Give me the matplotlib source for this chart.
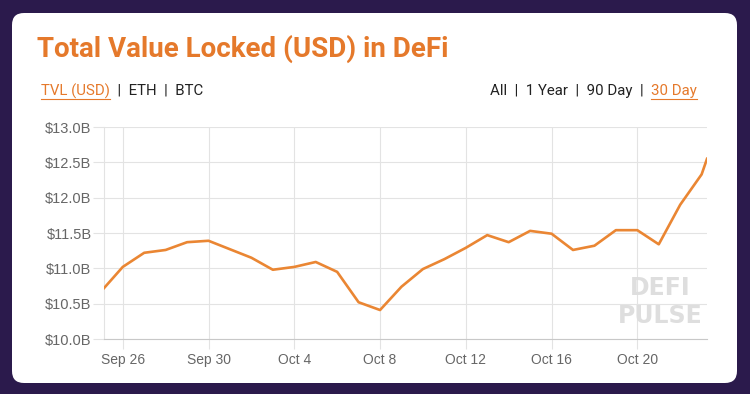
import matplotlib
matplotlib.use("Agg")
import matplotlib.pyplot as plt
import matplotlib.dates as mdates
from matplotlib.patches import FancyBboxPatch
from matplotlib.lines import Line2D
import pandas as pd

# TVL readings (billions USD), daily plus the latest partial-day value
timestamps = pd.to_datetime(
    ["2020-09-25 03:00"]
    + [f"2020-09-{d:02d} 00:00" for d in range(26, 31)]
    + [f"2020-10-{d:02d} 00:00" for d in range(1, 24)]
    + ["2020-10-23 06:00"],
    format="%Y-%m-%d %H:%M",
)
tvl_billions = [
    10.72, 11.02, 11.22, 11.26, 11.37, 11.39,
    11.27, 11.15, 10.98, 11.02, 11.09, 10.95, 10.52, 10.41, 10.74, 10.99,
    11.13, 11.29, 11.47, 11.37, 11.53, 11.49, 11.26, 11.32, 11.54, 11.54,
    11.34, 11.90, 12.33, 12.55,
]
x_ticks = ["2020-09-26", "2020-09-30", "2020-10-04", "2020-10-08",
           "2020-10-12", "2020-10-16", "2020-10-20"]
y_ticks = [10.0, 10.5, 11.0, 11.5, 12.0, 12.5, 13.0]

ORANGE = "#e5792b"
LINE = "#ea8633"
BG = "#2b1a4c"
GRID = "#e3e3e3"
TICK = "#666666"
UI_FONT = "Roboto"

W, H = 750, 394
fig = plt.figure(figsize=(W / 100, H / 100), dpi=100, facecolor=BG)

# white card behind everything
card = FancyBboxPatch((12 / W, 11 / H), 725 / W, 370 / H,
                      boxstyle="round,pad=0,rounding_size=0.016",
                      transform=fig.transFigure, facecolor="white",
                      edgecolor="none", mutation_aspect=W / H, zorder=-10)
fig.patches.append(card)

ax = fig.add_axes([104 / W, 55 / H, 603 / W, 212 / H])
ax.set_facecolor("white")
ax.plot(timestamps, tvl_billions, color=LINE, linewidth=1.9, zorder=3)

ax.set_xlim(timestamps[0], timestamps[-1])
ax.set_ylim(10.0, 13.0)
ax.set_yticks(y_ticks)
ax.set_yticklabels([f"${v:.1f}B" for v in y_ticks])
ax.set_xticks(pd.to_datetime(x_ticks))
ax.xaxis.set_major_formatter(mdates.DateFormatter("%b %-d"))

ax.grid(True, color=GRID, linewidth=0.8)
for side in ["top", "right"]:
    ax.spines[side].set_visible(False)
ax.spines["left"].set_color(GRID)
ax.spines["bottom"].set_color("#c8c8c8")
ax.tick_params(axis="y", colors=GRID, length=8, width=0.8,
               labelcolor=TICK, labelsize=10.5, pad=1)
ax.tick_params(axis="x", colors=GRID, length=7, width=0.8,
               labelcolor=TICK, labelsize=10, pad=3)
for lab in ax.get_xticklabels() + ax.get_yticklabels():
    lab.set_family("Liberation Sans")

# watermark
ax.text(0.922, 0.24, "DEFI", transform=ax.transAxes, ha="center", va="center",
        fontsize=17, color="#dedede", fontweight="bold", family="DejaVu Sans",
        zorder=2)
ax.text(0.922, 0.108, "PULSE", transform=ax.transAxes, ha="center",
        va="center", fontsize=17, color="#dedede", fontweight="bold",
        family="DejaVu Sans", zorder=2)

# title and menu
fig.text(37 / W, 1 - 49 / H, "Total Value Locked (USD) in DeFi", color=ORANGE,
         fontsize=20, fontweight="bold", family=UI_FONT, va="center")

menu_fs = 10.8
renderer = fig.canvas.get_renderer()


def underline(t):
    bb = t.get_window_extent(renderer).transformed(fig.transFigure.inverted())
    y = bb.y0 - 0.5 / H
    fig.lines.append(Line2D([bb.x0, bb.x1], [y, y], color=ORANGE,
                            linewidth=0.8, transform=fig.transFigure))


t1 = fig.text(41 / W, 1 - 91 / H, "TVL (USD)", color=ORANGE, fontsize=menu_fs,
              family=UI_FONT, va="center")
bb = t1.get_window_extent(renderer).transformed(fig.transFigure.inverted())
fig.text(bb.x1, 1 - 91 / H, "  |  ETH  |  BTC", color="#222222",
         fontsize=menu_fs, family=UI_FONT, va="center")
underline(t1)

t2 = fig.text(697 / W, 1 - 91 / H, "30 Day", color=ORANGE, fontsize=menu_fs,
              family=UI_FONT, va="center", ha="right")
bb = t2.get_window_extent(renderer).transformed(fig.transFigure.inverted())
fig.text(bb.x0, 1 - 91 / H, "All  |  1 Year  |  90 Day  |  ", color="#222222",
         fontsize=menu_fs, family=UI_FONT, va="center", ha="right")
underline(t2)

fig.savefig("out.png", dpi=100, facecolor=BG)
